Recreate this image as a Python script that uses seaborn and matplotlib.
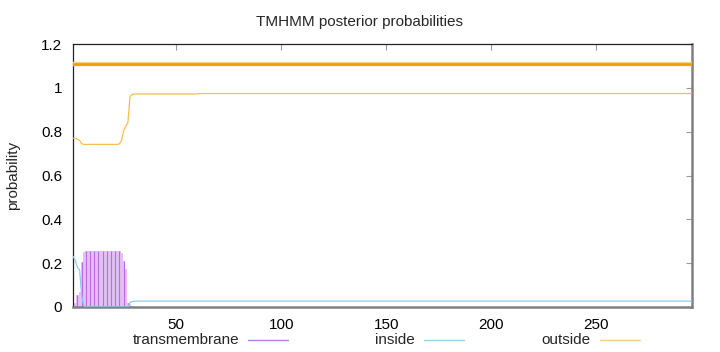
import matplotlib
matplotlib.use("Agg")
import matplotlib.pyplot as plt
import seaborn as sns
import pandas as pd
from matplotlib.lines import Line2D
from matplotlib.ticker import FuncFormatter

# ---------------- data ----------------
N = 296
residues = list(range(1, N + 1))

outside = ([0.770, 0.770, 0.765, 0.760, 0.745] + [0.742] * 17 +
           [0.745, 0.760, 0.805, 0.825, 0.840, 0.960, 0.970, 0.971] +
           [0.972] * 30 + [0.974] * (N - 60))
inside = ([0.230, 0.210, 0.180, 0.170, 0.050, 0.008] + [0.0] * 21 +
          [0.020, 0.025, 0.026] + [0.027] * (N - 30))
transmembrane = ([0.0, 0.020, 0.055, 0.070, 0.205, 0.250] + [0.255] * 17 +
                 [0.245, 0.210, 0.175, 0.020, 0.012, 0.005] + [0.0] * (N - 29))

topology_label = "outside"
topology_level = 1.11
topology_start = 1
topology_end = N

series_labels = ["transmembrane", "inside", "outside"]
x_ticks = [50, 100, 150, 200, 250]
y_ticks = [0, 0.2, 0.4, 0.6, 0.8, 1.0, 1.2]

# ---------------- style ----------------
sns.set_style("white")
plt.rcParams['font.family'] = ['Liberation Sans', 'DejaVu Sans']
FS = 11

col_tm_dark = "#BE6BE3"
col_tm_light = "#E3C0F3"
col_in = "#8CCBEB"
col_out = "#F3C04E"
col_topo = "#E9A000"
legend_cols = ["#B97BE0", "#9DD0EC", "#F2CB85"]

df = pd.DataFrame({"residue": residues, "outside": outside,
                   "inside": inside, "transmembrane": transmembrane})

fig = plt.figure(figsize=(7.2, 3.52), dpi=100)
ax = fig.add_axes([73.3 / 720, 45 / 352, (692.3 - 73.3) / 720, 263 / 352])

# transmembrane impulses
ax.bar(df["residue"], df["transmembrane"], width=1.0, color=col_tm_light,
       linewidth=0, zorder=1)
ax.vlines(df["residue"][::2], 0, df["transmembrane"][::2], color=col_tm_dark,
          linewidth=0.8, zorder=2)

sns.lineplot(data=df, x="residue", y="inside", color=col_in, linewidth=0.9,
             ax=ax, zorder=3)
sns.lineplot(data=df, x="residue", y="outside", color=col_out, linewidth=0.9,
             ax=ax, zorder=3)

# predicted topology line
topo = pd.DataFrame({"residue": [topology_start, topology_end],
                     "level": [topology_level, topology_level]})
sns.lineplot(data=topo, x="residue", y="level", color="#F6D38A",
             linewidth=3.2, ax=ax, zorder=4)
sns.lineplot(data=topo, x="residue", y="level", color=col_topo,
             linewidth=1.9, ax=ax, zorder=5)

ax.set_xlim(1, 295.8)
ax.set_ylim(0, 1.2)
ax.set_xticks(x_ticks)
ax.set_yticks(y_ticks)
ax.yaxis.set_major_formatter(FuncFormatter(lambda v, p: "%g" % round(v, 2)))
ax.tick_params(direction="in", length=4, width=0.8, color="#999999",
               labelsize=FS, labelcolor="black", pad=8,
               top=True, right=True)
ax.set_xlabel("")
ax.set_ylabel("probability", fontsize=FS, labelpad=15)

for side in ["left", "top"]:
    ax.spines[side].set_color("#222222")
    ax.spines[side].set_linewidth(0.9)
for side in ["right", "bottom"]:
    ax.spines[side].set_color("#808080")
    ax.spines[side].set_linewidth(1.8)

fig.text(0.5, 1 - 22 / 352, "TMHMM posterior probabilities", ha="center",
         va="center", fontsize=FS)

# legend, gnuplot style: text right-aligned, then a line sample
for i, (lab, c) in enumerate(zip(series_labels, legend_cols)):
    x_line0 = 248 + i * 176
    y = 1 - 340 / 352
    fig.text((x_line0 - 9) / 720, y, lab, ha="right", va="center", fontsize=FS)
    fig.add_artist(Line2D([x_line0 / 720, (x_line0 + 40) / 720], [y, y],
                          color=c, linewidth=1.0, transform=fig.transFigure))

fig.savefig("out.png", dpi=100)
